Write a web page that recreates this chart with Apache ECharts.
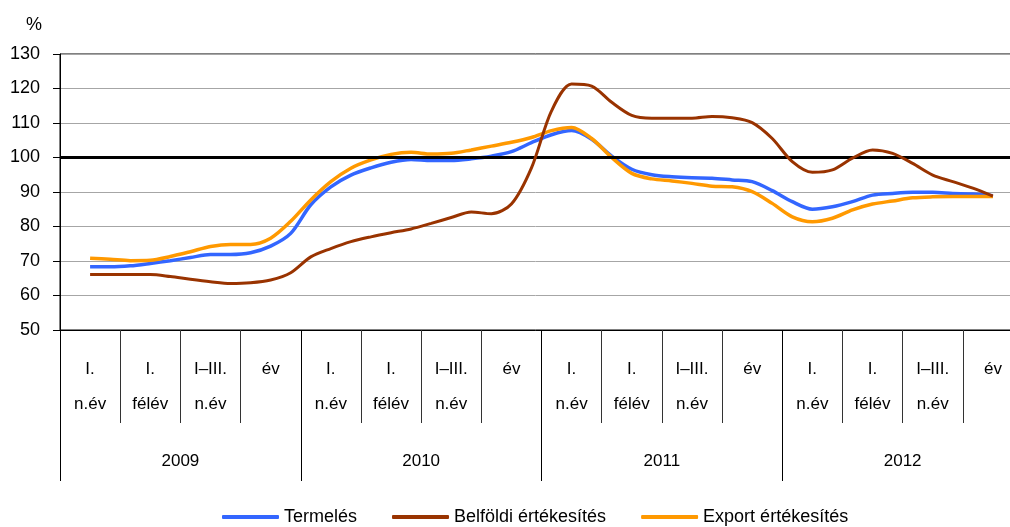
<!DOCTYPE html>
<html>
<head>
<meta charset="utf-8">
<script src="https://cdn.jsdelivr.net/npm/echarts@6/dist/echarts.min.js"></script>
<style>
  html, body { margin: 0; padding: 0; background: #fff; overflow: hidden; }
  #chart { width: 1010px; height: 527px; }
</style>
</head>
<body>
<div id="chart"></div>
<script>
// kategóriák: negyedéves kumulált időszakok évenként
const years = ['2009', '2010', '2011', '2012']
const periods = ['I.\nn.év', 'I.\nfélév', 'I–III.\nn.év', 'év']
const quarters = years.flatMap(() => periods)

// havi pontok, az első időszak közepétől az utolsóig (46 db)
const termeles = [
  68.3, 68.3, 68.6, 69.3, 70.1, 71.0, 71.9, 71.9, 72.4, 74.3, 78.0, 86.3,
  91.5, 94.9, 97.0, 98.6, 99.4, 99.1, 99.1, 99.6, 100.4, 101.7, 104.3, 106.6,
  107.8, 105.3, 100.4, 96.6, 95.0, 94.4, 94.1, 94.0, 93.5, 93.0, 90.4, 87.2,
  85.0, 85.7, 87.2, 89.1, 89.6, 89.9, 89.9, 89.6, 89.4, 88.9
]
const belfoldi = [
  66.1, 66.1, 66.1, 66.1, 65.5, 64.7, 64.0, 63.5, 63.7, 64.5, 66.6, 71.2,
  73.6, 75.6, 77.0, 78.2, 79.3, 80.9, 82.6, 84.2, 83.7, 86.5, 97.0, 113.5,
  121.3, 120.7, 116.0, 112.2, 111.4, 111.4, 111.4, 111.9, 111.5, 110.1, 105.5, 98.8,
  95.7, 96.4, 99.8, 102.2, 101.2, 98.3, 94.9, 93.0, 91.1, 88.8
]
const exportErt = [
  70.8, 70.5, 70.1, 70.2, 71.3, 72.7, 74.2, 74.8, 74.8, 76.6, 81.5, 87.7,
  93.0, 96.9, 99.3, 100.9, 101.5, 101.0, 101.2, 102.2, 103.3, 104.4, 105.8, 107.8,
  108.7, 105.5, 100.0, 95.4, 93.8, 93.2, 92.5, 91.7, 91.5, 90.1, 86.7, 82.8,
  81.4, 82.4, 84.8, 86.5, 87.4, 88.3, 88.6, 88.7, 88.7, 88.7
]

const seriesNames = ['Termelés', 'Belföldi értékesítés', 'Export értékesítés']
const seriesColors = ['#3366ff', '#993300', '#ff9900']
const baseline = 100

const font = '"Liberation Sans", Arial, sans-serif'

function toPoints (values) {
  return values.map((v, i) => [i, v])
}

function lineSeries (name, color, values, width, z) {
  return {
    name,
    type: 'line',
    xAxisIndex: 0,
    yAxisIndex: 0,
    data: toPoints(values),
    smooth: 0.3,
    symbol: 'none',
    z,
    itemStyle: { color },
    lineStyle: { color, width }
  }
}

const series = [
  lineSeries(seriesNames[0], seriesColors[0], termeles, 3.5, 3),
  lineSeries(seriesNames[2], seriesColors[2], exportErt, 3.5, 4),
  lineSeries(seriesNames[1], seriesColors[1], belfoldi, 3, 5)
]
series[0].markLine = {
  silent: true,
  symbol: ['none', 'none'],
  label: { show: false },
  lineStyle: { color: '#000', width: 3, type: 'solid' },
  data: [{ yAxis: baseline }]
}

const chart = echarts.init(document.getElementById('chart'))
chart.setOption({
  animation: false,
  textStyle: { fontFamily: font },
  title: {
    text: '%',
    left: 21,
    top: 11,
    textStyle: { fontSize: 18, fontWeight: 'normal', color: '#000', fontFamily: font }
  },
  legend: {
    data: seriesNames,
    left: 222,
    top: 508,
    padding: 0,
    icon: 'roundRect',
    itemWidth: 57,
    itemHeight: 4,
    itemGap: 35,
    textStyle: { fontSize: 18, color: '#000', fontFamily: font }
  },
  // a rajzterület jobbra túlnyúlik a képen, mint az eredetin
  grid: {
    left: 60,
    top: 54,
    width: 963,
    height: 276,
    outerBoundsMode: 'none',
    show: true,
    borderColor: '#000',
    borderWidth: 1
  },
  xAxis: [
    { type: 'value', min: -1.5, max: 46.5, show: false },
    {
      type: 'category',
      data: quarters,
      position: 'bottom',
      offset: 0,
      axisLine: { show: true, onZero: false, lineStyle: { color: '#000' } },
      axisTick: { show: true, interval: 0, length: 93, lineStyle: { color: '#333', width: 1 } },
      axisLabel: { interval: 0, margin: 22, fontSize: 17, lineHeight: 35, color: '#000', fontFamily: font },
      splitLine: { show: false }
    },
    {
      type: 'category',
      data: years,
      position: 'bottom',
      offset: 0,
      axisLine: { show: false, onZero: false },
      axisTick: { show: true, interval: 0, length: 151, lineStyle: { color: '#000', width: 1 } },
      axisLabel: { interval: 0, margin: 121, fontSize: 17, lineHeight: 20, color: '#000', fontFamily: font },
      splitLine: { show: false }
    }
  ],
  yAxis: {
    type: 'value',
    min: 50,
    max: 130,
    interval: 10,
    axisLine: { show: true, onZero: false, lineStyle: { color: '#000' } },
    axisTick: { show: true, length: 7, lineStyle: { color: '#000' } },
    axisLabel: { margin: 20, fontSize: 18, color: '#000', fontFamily: font },
    splitLine: { lineStyle: { color: '#a6a6a6' } }
  },
  series
})
</script>
</body>
</html>
